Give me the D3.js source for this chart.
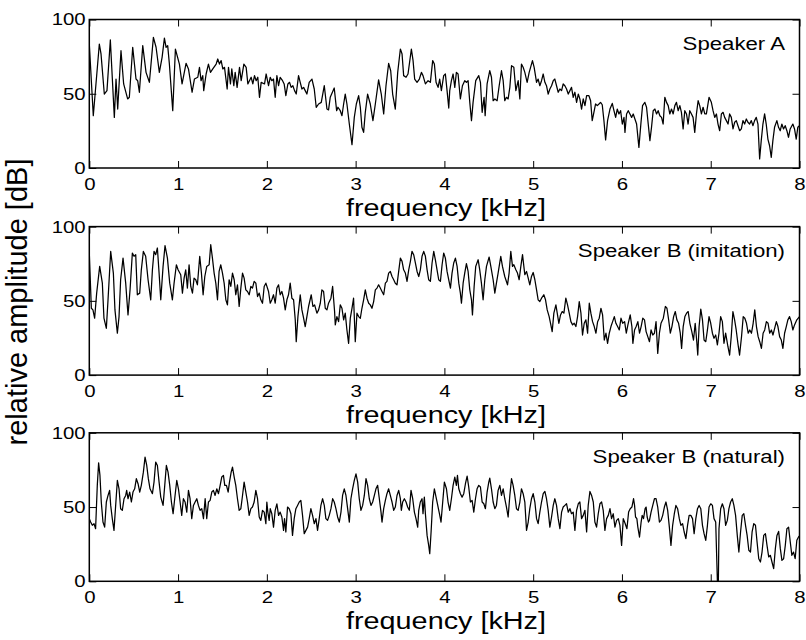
<!DOCTYPE html>
<html><head><meta charset="utf-8">
<script src="https://cdn.jsdelivr.net/npm/d3@7"></script>
<style>
body{margin:0;background:#fff}
svg{display:block}
text{font-family:"Liberation Sans",Arial,Helvetica,sans-serif;fill:#000}
</style>
</head><body><svg id="c" width="806" height="640"></svg>
<script>
// [frequency kHz, relative amplitude dB]
const speakerA = [[0,83.5],[0.045,35.2],[0.113,83.5],[0.132,76.8],[0.169,49.8],[0.199,52.1],[0.237,86.2],[0.282,34.1],[0.301,59.9],[0.320,39.7],[0.357,79.0],[0.387,56.6],[0.432,46.5],[0.451,47.6],[0.489,81.3],[0.526,59.9],[0.545,58.8],[0.564,51.0],[0.602,82.4],[0.639,64.4],[0.677,57.7],[0.722,88.0],[0.752,81.3],[0.789,64.4],[0.820,74.5],[0.846,87.5],[0.865,81.3],[0.883,82.4],[0.902,70.0],[0.940,38.6],[0.970,80.1],[1.015,70.0],[1.045,56.6],[1.090,70.5],[1.117,66.7],[1.158,51.0],[1.184,59.9],[1.222,61.1],[1.241,67.8],[1.259,58.8],[1.278,62.2],[1.289,52.1],[1.316,63.3],[1.342,70.0],[1.365,64.4],[1.391,66.7],[1.429,70.0],[1.447,73.4],[1.466,70.0],[1.485,72.3],[1.504,66.7],[1.523,67.8],[1.553,53.2],[1.568,67.8],[1.590,56.6],[1.605,66.7],[1.628,55.4],[1.643,64.4],[1.665,54.3],[1.692,67.8],[1.711,58.8],[1.741,70.0],[1.767,67.8],[1.786,56.6],[1.823,61.1],[1.842,56.6],[1.861,62.2],[1.880,58.8],[1.898,61.1],[1.917,47.6],[1.936,57.7],[1.974,56.6],[1.992,63.3],
[2.019,55.4],[2.038,61.1],[2.056,58.8],[2.075,59.9],[2.094,47.6],[2.113,62.2],[2.132,55.4],[2.150,61.1],[2.177,58.8],[2.195,56.6],[2.214,48.7],[2.237,56.6],[2.256,57.7],[2.274,54.3],[2.293,55.4],[2.312,52.1],[2.331,49.8],[2.357,62.2],[2.376,57.7],[2.395,53.2],[2.414,54.3],[2.432,52.1],[2.451,49.8],[2.477,57.7],[2.508,59.9],[2.534,53.2],[2.556,40.9],[2.583,43.1],[2.613,44.2],[2.647,55.4],[2.677,39.7],[2.695,39.1],[2.714,47.6],[2.759,53.9],[2.786,38.6],[2.801,40.9],[2.827,38.6],[2.846,35.2],[2.865,43.1],[2.883,49.8],[2.902,43.1],[2.929,29.6],[2.959,15.7],[2.985,34.1],[3.008,43.1],[3.034,48.7],[3.053,40.9],[3.071,27.4],[3.090,24.0],[3.109,37.5],[3.135,49.8],[3.165,43.1],[3.195,31.9],[3.222,43.1],[3.259,59.3],[3.289,49.8],[3.316,36.4],[3.342,55.4],[3.372,70.5],[3.395,65.5],[3.417,49.8],[3.447,39.7],[3.474,64.4],[3.504,80.1],[3.523,76.8],[3.541,62.2],[3.568,61.1],[3.590,63.3],[3.628,80.1],[3.647,72.3],[3.665,59.9],[3.692,57.7],[3.718,59.9],[3.741,64.4],[3.759,62.2],[3.786,56.6],[3.816,58.8],[3.842,57.7],[3.868,72.3],[3.887,70.0],[3.906,57.7],[3.929,54.3],[3.947,59.9],[3.966,52.1],[3.992,62.2],
[4.011,63.3],[4.030,52.1],[4.049,40.4],[4.060,52.1],[4.079,58.8],[4.098,63.3],[4.117,54.3],[4.135,64.4],[4.154,63.3],[4.180,46.5],[4.203,55.4],[4.229,58.8],[4.248,57.7],[4.267,58.8],[4.286,44.2],[4.305,31.9],[4.323,44.2],[4.353,58.8],[4.387,62.2],[4.406,57.7],[4.425,37.5],[4.447,47.6],[4.459,35.2],[4.481,56.6],[4.511,65.5],[4.530,61.1],[4.549,45.3],[4.568,46.5],[4.594,45.3],[4.617,55.4],[4.643,65.5],[4.662,58.8],[4.680,45.3],[4.699,47.6],[4.718,46.5],[4.737,54.3],[4.756,68.9],[4.782,67.8],[4.805,52.1],[4.831,58.8],[4.850,46.5],[4.868,70.0],[4.887,67.8],[4.906,64.4],[4.932,57.7],[4.955,64.4],[4.992,72.3],[5.011,67.8],[5.038,57.7],[5.056,59.9],[5.075,55.4],[5.094,58.8],[5.113,63.3],[5.132,57.7],[5.150,55.4],[5.169,49.8],[5.188,53.2],[5.207,55.4],[5.226,58.8],[5.244,59.9],[5.263,55.4],[5.282,51.0],[5.301,53.2],[5.320,52.1],[5.338,56.6],[5.357,55.4],[5.376,53.2],[5.395,49.8],[5.414,52.1],[5.432,54.3],[5.451,47.6],[5.470,51.0],[5.489,44.2],[5.508,49.8],[5.526,46.5],[5.545,39.7],[5.564,46.5],[5.583,42.0],[5.602,48.7],[5.628,48.7],[5.647,45.3],[5.665,31.9],[5.684,37.5],[5.703,43.1],[5.722,42.0],[5.741,43.1],[5.759,44.2],[5.778,42.6],[5.797,31.9],[5.816,18.9],[5.838,31.9],[5.865,39.7],[5.891,43.5],[5.910,38.6],[5.929,34.1],[5.947,39.7],[5.966,36.4],[5.985,38.6],[6.004,29.6],[6.023,34.1],
[6.034,24.0],[6.052,36.4],[6.071,38.6],[6.090,36.4],[6.109,34.1],[6.127,36.4],[6.146,33.0],[6.165,29.6],[6.191,13.9],[6.213,29.6],[6.232,42.0],[6.258,44.2],[6.277,40.9],[6.296,29.6],[6.315,18.4],[6.333,27.4],[6.352,38.6],[6.371,39.7],[6.390,36.4],[6.408,38.6],[6.427,35.2],[6.446,34.1],[6.464,29.6],[6.483,47.6],[6.502,44.2],[6.521,42.0],[6.539,36.4],[6.558,39.7],[6.577,36.4],[6.596,42.0],[6.614,44.2],[6.633,38.6],[6.652,42.0],[6.670,37.5],[6.689,26.3],[6.708,38.6],[6.727,36.4],[6.745,29.6],[6.764,38.6],[6.783,36.4],[6.801,34.1],[6.820,24.0],[6.839,36.4],[6.858,45.3],[6.876,42.0],[6.895,36.4],[6.914,40.9],[6.933,36.4],[6.951,36.4],[6.981,47.6],[7.007,44.2],[7.026,38.6],[7.045,34.1],[7.064,36.4],[7.082,29.6],[7.101,25.1],[7.120,36.4],[7.139,37.5],[7.157,34.1],[7.176,31.9],[7.195,29.6],[7.213,36.4],[7.232,34.1],[7.251,26.3],[7.270,30.8],[7.288,31.9],[7.307,28.5],[7.326,25.1],[7.345,26.3],[7.363,31.9],[7.382,29.6],[7.401,33.0],[7.419,30.8],[7.438,29.6],[7.457,31.9],[7.476,28.5],[7.494,31.9],[7.513,34.1],[7.532,29.6],[7.551,6.1],[7.569,18.4],[7.588,29.6],[7.607,36.4],[7.625,29.6],[7.644,19.5],[7.663,15.0],[7.682,7.2],[7.700,18.4],[7.719,27.4],[7.745,31.9],[7.764,27.4],[7.783,25.1],[7.801,29.6],[7.820,26.3],[7.839,28.5],[7.858,25.1],[7.876,20.7],[7.895,26.3],[7.925,29.6],[7.944,26.3],[7.963,19.5],[7.981,27.4],[8.000,28.5]];

const speakerBImitation = [[0,82.2],[0.023,45.0],[0.041,43.9],[0.060,38.3],[0.083,55.2],[0.117,73.2],[0.147,61.9],[0.165,38.3],[0.192,31.5],[0.211,50.7],[0.241,83.3],[0.271,68.7],[0.289,43.9],[0.316,28.2],[0.335,39.4],[0.353,64.2],[0.380,78.8],[0.410,61.9],[0.436,40.5],[0.459,57.4],[0.485,82.2],[0.504,80.0],[0.523,81.1],[0.541,54.1],[0.568,55.2],[0.586,70.9],[0.609,83.3],[0.635,80.0],[0.662,64.2],[0.692,50.7],[0.711,70.9],[0.729,83.3],[0.748,81.1],[0.767,85.6],[0.786,68.7],[0.805,50.7],[0.831,73.2],[0.853,87.2],[0.880,78.8],[0.906,61.9],[0.936,50.7],[0.955,61.9],[0.981,74.3],[1.000,70.9],[1.030,67.6],[1.049,55.2],[1.068,65.3],[1.086,70.9],[1.105,58.6],[1.124,74.3],[1.143,59.7],[1.162,55.2],[1.180,65.3],[1.199,64.2],[1.218,60.8],[1.244,80.0],[1.263,68.7],[1.282,54.1],[1.301,66.4],[1.323,73.2],[1.350,74.3],[1.368,87.8],[1.387,78.8],[1.406,68.7],[1.425,61.9],[1.444,50.7],[1.462,69.8],[1.481,74.3],[1.500,68.7],[1.519,61.9],[1.538,50.7],[1.556,47.3],[1.575,64.2],[1.594,59.7],[1.613,68.7],[1.632,64.2],[1.650,54.1],[1.669,60.8],[1.688,46.2],[1.707,58.6],[1.726,68.7],[1.744,65.3],[1.763,57.4],[1.782,56.3],[1.801,54.1],[1.820,59.7],[1.838,58.6],[1.857,63.1],[1.876,61.9],[1.895,52.9],[1.914,55.2],[1.932,50.7],[1.951,48.4],[1.970,59.7],[1.989,61.9],
[2.019,56.3],[2.038,48.4],[2.056,50.7],[2.075,54.1],[2.094,48.4],[2.113,58.6],[2.132,60.8],[2.150,54.1],[2.169,56.3],[2.188,51.8],[2.207,43.9],[2.226,50.7],[2.244,54.1],[2.263,61.9],[2.282,51.8],[2.301,50.7],[2.320,37.2],[2.331,22.5],[2.350,39.4],[2.376,54.1],[2.395,43.9],[2.414,38.3],[2.432,32.7],[2.451,39.4],[2.470,46.2],[2.500,54.1],[2.519,46.2],[2.538,47.3],[2.564,41.7],[2.583,43.9],[2.602,48.4],[2.620,57.4],[2.639,56.3],[2.658,45.0],[2.677,43.9],[2.695,48.4],[2.722,51.8],[2.741,59.7],[2.763,42.8],[2.771,33.8],[2.789,39.4],[2.808,36.0],[2.827,47.3],[2.846,45.0],[2.865,37.2],[2.883,41.7],[2.902,30.4],[2.921,21.4],[2.940,38.3],[2.959,45.0],[2.977,51.8],[2.996,22.5],[3.015,41.7],[3.034,39.4],[3.053,38.3],[3.071,45.0],[3.090,50.7],[3.109,57.4],[3.128,51.8],[3.147,48.4],[3.165,47.3],[3.184,45.0],[3.203,49.5],[3.222,57.4],[3.241,58.6],[3.259,60.8],[3.278,58.6],[3.297,56.3],[3.316,54.1],[3.335,61.9],[3.353,63.1],[3.372,68.7],[3.391,69.8],[3.410,66.4],[3.429,64.2],[3.447,61.9],[3.466,60.8],[3.485,69.8],[3.504,78.8],[3.523,76.6],[3.541,70.9],[3.560,68.7],[3.579,63.1],[3.598,70.9],[3.617,76.6],[3.635,83.3],[3.654,81.1],[3.673,75.5],[3.692,69.8],[3.711,66.4],[3.729,70.9],[3.748,80.0],[3.767,83.3],[3.786,80.0],[3.805,70.9],[3.823,64.2],[3.842,63.1],[3.861,75.5],[3.880,83.3],[3.898,77.7],[3.917,70.9],[3.936,64.2],[3.955,63.1],[3.974,74.3],[3.992,82.2],
[4.011,78.8],[4.030,69.8],[4.049,64.2],[4.068,58.6],[4.086,68.7],[4.105,75.5],[4.124,78.8],[4.143,73.2],[4.162,61.9],[4.180,55.2],[4.192,48.4],[4.211,61.9],[4.229,68.7],[4.248,75.0],[4.267,69.8],[4.286,57.4],[4.305,50.7],[4.316,40.5],[4.335,59.7],[4.353,73.2],[4.380,77.7],[4.398,70.9],[4.417,61.9],[4.436,50.7],[4.455,64.2],[4.474,73.2],[4.504,79.5],[4.523,73.2],[4.549,64.2],[4.568,55.2],[4.586,61.9],[4.605,68.7],[4.635,80.0],[4.654,73.2],[4.680,66.4],[4.711,60.8],[4.729,68.7],[4.748,83.3],[4.767,73.2],[4.782,74.3],[4.805,70.9],[4.823,68.7],[4.842,64.2],[4.861,73.2],[4.880,81.1],[4.895,73.2],[4.906,67.6],[4.925,69.8],[4.944,65.3],[4.962,60.8],[4.981,66.4],[5.000,69.1],[5.019,64.2],[5.038,57.4],[5.056,50.7],[5.075,49.5],[5.094,51.8],[5.120,54.1],[5.139,50.7],[5.158,43.9],[5.180,39.4],[5.199,33.8],[5.214,29.3],[5.233,41.7],[5.256,47.3],[5.271,41.7],[5.289,34.9],[5.308,40.5],[5.327,42.8],[5.346,41.7],[5.368,51.8],[5.387,47.3],[5.406,41.7],[5.425,36.0],[5.444,33.8],[5.462,34.9],[5.481,32.7],[5.500,39.4],[5.519,49.5],[5.538,41.7],[5.556,27.0],[5.575,34.9],[5.594,37.2],[5.613,28.2],[5.632,48.4],[5.650,41.7],[5.669,36.0],[5.688,32.7],[5.707,28.2],[5.726,36.0],[5.744,38.3],[5.763,45.0],[5.782,40.5],[5.801,23.6],[5.820,28.2],[5.838,21.4],[5.857,28.2],[5.876,32.7],[5.895,36.0],[5.914,39.4],[5.932,34.9],[5.951,32.7],[5.970,30.4],[5.989,38.3],[6.008,34.9],
[6.030,36.0],[6.049,28.2],[6.067,33.8],[6.093,40.5],[6.112,32.7],[6.123,21.4],[6.142,30.4],[6.160,32.7],[6.179,36.0],[6.198,28.2],[6.216,32.7],[6.235,38.3],[6.254,37.2],[6.272,29.3],[6.291,25.9],[6.310,22.5],[6.328,30.4],[6.347,27.0],[6.366,28.2],[6.384,36.0],[6.403,14.6],[6.422,28.2],[6.440,34.9],[6.466,38.3],[6.489,46.2],[6.507,45.0],[6.526,37.2],[6.545,28.2],[6.563,32.7],[6.582,39.4],[6.601,42.8],[6.619,37.2],[6.638,34.9],[6.657,28.2],[6.672,18.0],[6.690,32.7],[6.709,39.4],[6.728,41.7],[6.746,42.8],[6.765,34.9],[6.787,29.3],[6.806,23.6],[6.825,34.9],[6.843,22.5],[6.854,13.5],[6.869,32.7],[6.888,44.4],[6.907,37.2],[6.925,23.6],[6.944,22.5],[6.963,30.4],[6.981,39.4],[7.000,34.9],[7.019,28.2],[7.037,24.8],[7.056,27.0],[7.075,20.3],[7.093,28.2],[7.112,39.4],[7.131,36.0],[7.149,21.4],[7.168,28.2],[7.194,19.1],[7.213,13.5],[7.231,25.9],[7.250,42.8],[7.269,37.2],[7.287,30.4],[7.306,21.4],[7.325,13.5],[7.347,25.9],[7.366,39.4],[7.384,38.3],[7.403,34.9],[7.422,28.2],[7.440,30.4],[7.459,28.2],[7.478,34.9],[7.496,43.9],[7.515,32.7],[7.534,25.9],[7.552,22.5],[7.571,18.0],[7.590,28.2],[7.608,30.4],[7.627,36.0],[7.646,34.9],[7.664,28.2],[7.683,30.4],[7.701,27.0],[7.720,31.5],[7.739,36.0],[7.757,32.7],[7.776,25.9],[7.795,23.6],[7.813,18.0],[7.832,28.2],[7.851,32.7],[7.869,37.2],[7.888,39.4],[7.907,36.0],[7.925,30.4],[7.944,33.8],[7.970,37.2],[8.000,39.4]];

const speakerBNatural = [[0,42.2],[0.015,39.9],[0.034,37.7],[0.053,38.8],[0.071,35.4],[0.090,64.6],[0.105,79.8],[0.120,71.3],[0.135,53.4],[0.154,39.9],[0.173,36.5],[0.192,53.4],[0.211,57.8],[0.229,61.2],[0.241,51.1],[0.259,42.2],[0.278,34.3],[0.297,51.1],[0.316,67.9],[0.335,62.3],[0.353,48.9],[0.372,47.8],[0.391,55.6],[0.410,57.8],[0.421,61.2],[0.436,55.6],[0.455,60.1],[0.474,53.4],[0.492,60.1],[0.511,62.3],[0.530,69.1],[0.549,65.7],[0.568,60.1],[0.586,64.6],[0.609,73.5],[0.628,83.6],[0.647,78.0],[0.665,69.1],[0.684,62.3],[0.711,59.0],[0.729,66.8],[0.748,80.3],[0.767,78.0],[0.786,66.8],[0.805,56.7],[0.831,51.1],[0.850,64.6],[0.868,78.0],[0.887,73.5],[0.906,64.6],[0.925,53.4],[0.944,45.5],[0.962,55.6],[0.985,67.9],[1.004,62.3],[1.023,53.4],[1.041,44.4],[1.060,55.6],[1.079,53.4],[1.098,46.6],[1.117,61.2],[1.135,55.6],[1.154,42.2],[1.173,51.1],[1.192,53.4],[1.211,55.6],[1.229,51.1],[1.248,47.8],[1.267,48.9],[1.286,42.2],[1.305,55.6],[1.323,42.2],[1.342,53.4],[1.361,54.5],[1.380,60.1],[1.398,61.2],[1.417,57.8],[1.436,62.3],[1.455,59.0],[1.474,64.6],[1.492,70.2],[1.511,71.3],[1.526,64.6],[1.545,64.6],[1.564,60.1],[1.579,66.8],[1.598,73.5],[1.613,76.9],[1.632,70.2],[1.650,64.6],[1.669,55.6],[1.688,47.8],[1.707,48.9],[1.726,57.8],[1.744,66.8],[1.763,60.1],[1.782,53.4],[1.801,44.4],[1.820,48.9],[1.838,50.0],[1.857,53.4],[1.876,61.2],[1.895,55.6],[1.914,43.3],[1.932,41.0],[1.951,47.8],[1.970,46.6],[1.989,38.8],
[2.000,53.4],[2.011,46.6],[2.026,41.0],[2.038,48.9],[2.056,45.5],[2.075,36.5],[2.094,47.8],[2.113,52.2],[2.132,44.4],[2.150,46.6],[2.169,43.3],[2.188,34.3],[2.199,42.2],[2.214,33.2],[2.233,50.0],[2.252,48.9],[2.271,45.5],[2.289,30.9],[2.308,42.2],[2.327,48.9],[2.346,51.1],[2.365,53.4],[2.383,54.5],[2.402,44.4],[2.421,32.1],[2.440,34.3],[2.459,36.5],[2.477,42.2],[2.496,48.9],[2.515,44.4],[2.534,38.8],[2.553,42.2],[2.571,34.3],[2.590,42.2],[2.609,51.1],[2.628,55.6],[2.647,51.1],[2.665,42.2],[2.684,41.0],[2.703,44.4],[2.722,48.9],[2.741,55.6],[2.759,53.4],[2.778,48.9],[2.797,43.3],[2.816,39.9],[2.835,46.6],[2.853,57.8],[2.872,62.3],[2.891,57.8],[2.910,48.9],[2.929,39.9],[2.947,55.6],[2.966,62.3],[2.985,67.9],[3.004,72.4],[3.023,66.8],[3.041,55.6],[3.060,47.8],[3.079,51.1],[3.098,57.8],[3.117,69.1],[3.135,64.6],[3.154,55.6],[3.173,51.1],[3.192,53.4],[3.211,57.8],[3.229,62.3],[3.248,64.6],[3.267,55.6],[3.286,46.6],[3.297,39.9],[3.316,48.9],[3.335,54.5],[3.353,59.0],[3.372,62.3],[3.391,57.8],[3.410,53.4],[3.429,47.8],[3.447,50.0],[3.466,57.8],[3.485,61.2],[3.504,55.6],[3.515,47.8],[3.530,53.4],[3.549,55.6],[3.568,53.4],[3.586,50.0],[3.605,47.8],[3.624,61.2],[3.643,55.6],[3.662,46.6],[3.680,42.2],[3.699,36.5],[3.711,47.8],[3.729,53.4],[3.748,55.6],[3.759,45.5],[3.774,56.7],[3.786,45.5],[3.805,30.9],[3.823,24.2],[3.835,18.6],[3.850,33.2],[3.868,53.4],[3.887,62.3],[3.906,56.7],[3.925,51.1],[3.944,45.5],[3.962,39.9],[3.981,53.4],[4.000,66.8],
[4.023,62.3],[4.041,53.4],[4.060,47.8],[4.079,55.6],[4.098,64.6],[4.117,70.2],[4.135,64.6],[4.147,71.3],[4.162,62.3],[4.180,59.0],[4.199,56.7],[4.218,59.0],[4.237,65.7],[4.256,70.9],[4.274,63.5],[4.293,53.4],[4.312,54.5],[4.331,46.6],[4.350,55.6],[4.368,62.3],[4.387,64.6],[4.406,63.5],[4.425,53.4],[4.444,52.2],[4.462,48.9],[4.481,60.1],[4.500,66.8],[4.511,69.5],[4.530,62.3],[4.549,53.4],[4.568,48.9],[4.586,51.1],[4.605,61.2],[4.624,64.6],[4.643,57.8],[4.662,62.3],[4.680,55.6],[4.699,50.0],[4.718,43.3],[4.737,57.8],[4.756,69.1],[4.774,64.6],[4.793,57.8],[4.812,48.9],[4.831,47.8],[4.850,53.4],[4.868,62.3],[4.887,59.0],[4.906,53.4],[4.925,34.3],[4.944,39.9],[4.962,48.9],[4.981,55.6],[5.000,59.0],[5.019,53.4],[5.038,42.2],[5.056,38.8],[5.075,46.6],[5.094,53.4],[5.113,59.0],[5.132,60.5],[5.150,55.6],[5.169,47.8],[5.188,36.5],[5.207,43.3],[5.226,51.1],[5.244,55.6],[5.263,51.1],[5.282,42.2],[5.301,35.4],[5.320,46.6],[5.338,50.0],[5.357,51.1],[5.376,52.2],[5.395,46.6],[5.414,48.9],[5.432,45.5],[5.451,46.6],[5.470,34.3],[5.489,47.8],[5.508,52.2],[5.526,53.4],[5.545,42.2],[5.564,44.4],[5.583,47.8],[5.602,33.2],[5.620,51.1],[5.639,60.5],[5.658,57.8],[5.677,53.4],[5.695,39.9],[5.714,36.5],[5.733,45.5],[5.752,52.2],[5.771,53.4],[5.789,47.8],[5.808,34.3],[5.827,42.2],[5.846,44.4],[5.865,48.9],[5.883,42.2],[5.902,45.5],[5.921,36.5],[5.940,41.0],[5.959,42.2],[5.977,37.7],[5.996,24.2],[6.015,42.2],
[6.037,38.8],[6.056,35.4],[6.075,46.6],[6.093,48.9],[6.112,50.0],[6.131,55.6],[6.142,51.1],[6.153,43.3],[6.168,42.2],[6.179,36.5],[6.198,29.8],[6.216,39.9],[6.228,44.4],[6.243,42.2],[6.261,48.9],[6.272,50.0],[6.284,43.3],[6.299,39.9],[6.310,41.0],[6.328,46.6],[6.347,51.1],[6.366,55.6],[6.384,55.6],[6.403,50.0],[6.422,39.9],[6.440,41.0],[6.459,44.4],[6.478,50.0],[6.496,53.4],[6.515,47.8],[6.534,36.5],[6.552,24.2],[6.571,37.7],[6.590,45.5],[6.608,51.1],[6.627,48.9],[6.646,42.2],[6.664,37.7],[6.683,38.8],[6.701,33.2],[6.720,28.7],[6.739,37.7],[6.757,44.4],[6.776,44.4],[6.795,42.2],[6.813,32.1],[6.832,42.2],[6.851,48.9],[6.869,51.1],[6.888,48.9],[6.907,37.7],[6.925,32.1],[6.944,27.6],[6.963,37.7],[6.981,50.0],[7.000,52.2],[7.019,51.1],[7.037,42.2],[7.056,39.9],[7.075,0],[7.086,0],[7.093,35.4],[7.112,48.9],[7.131,52.2],[7.149,48.9],[7.168,37.7],[7.187,41.0],[7.205,48.9],[7.224,53.4],[7.243,55.6],[7.261,51.1],[7.280,44.4],[7.299,30.9],[7.317,19.7],[7.336,33.2],[7.355,44.4],[7.373,45.5],[7.392,37.7],[7.410,30.9],[7.429,20.9],[7.448,19.7],[7.466,33.2],[7.485,38.8],[7.504,37.7],[7.522,26.5],[7.541,15.2],[7.560,13.0],[7.578,19.7],[7.597,30.9],[7.616,32.1],[7.634,24.2],[7.653,16.4],[7.672,17.5],[7.690,13.0],[7.709,8.5],[7.728,22.0],[7.746,30.9],[7.765,33.6],[7.784,22.0],[7.802,14.1],[7.821,15.2],[7.840,24.2],[7.858,35.4],[7.877,36.5],[7.896,26.5],[7.914,17.5],[7.933,19.7],[7.951,15.2],[7.970,27.6],[7.989,29.8],[8.000,30.5]];

const panelTitles = ["Speaker A", "Speaker B (imitation)", "Speaker B (natural)"];
const xTicks = [0, 1, 2, 3, 4, 5, 6, 7, 8];
const yTicks = [0, 50, 100];
const xLabel = "frequency [kHz]";
const yLabel = "relative amplitude [dB]";

const series = [speakerA, speakerBImitation, speakerBNatural];
const svg = d3.select("#c");
const left = 89.3, right = 799.5, panelH = 148.5;
const panelTops = [19.5, 226.6, 432.8];
const x = d3.scaleLinear().domain([0, 8]).range([left, right]);
const FONT = '"Liberation Sans", Arial, Helvetica, sans-serif';
const SX = 1.2; // text in the reference is slightly wide

series.forEach((data, i) => {
  const top = panelTops[i], bottom = top + panelH;
  const y = d3.scaleLinear().domain([0, 100]).range([bottom, top]);
  const g = svg.append("g");
  const clipId = "clip" + i;
  g.append("clipPath").attr("id", clipId).append("rect")
    .attr("x", left).attr("y", top).attr("width", right - left).attr("height", panelH);

  g.append("path").datum(data)
    .attr("clip-path", `url(#${clipId})`)
    .attr("fill", "none").attr("stroke", "#000").attr("stroke-width", 1.25)
    .attr("stroke-linejoin", "round")
    .attr("d", d3.line().x(d => x(d[0])).y(d => y(d[1])));

  const styleAxis = sel => {
    sel.select(".domain").remove();
    sel.selectAll(".tick line").attr("stroke", "#000").attr("stroke-width", 1);
    sel.selectAll("text").attr("font-size", 17).attr("font-family", FONT).attr("fill", "#000")
      .attr("transform", `scale(${SX},1)`);
  };
  g.append("g").attr("transform", `translate(0,${bottom})`)
    .call(d3.axisBottom(x).tickValues(xTicks).tickFormat(d3.format("d")).tickSizeInner(-7).tickSizeOuter(0).tickPadding(10))
    .call(styleAxis);
  g.append("g").attr("transform", `translate(0,${top})`)
    .call(d3.axisTop(x).tickValues(xTicks).tickFormat("").tickSizeInner(-7).tickSizeOuter(0))
    .call(styleAxis);
  g.append("g").attr("transform", `translate(${left},0)`)
    .call(d3.axisLeft(y).tickValues(yTicks).tickFormat(d3.format("d")).tickSizeInner(-7).tickSizeOuter(0).tickPadding(3))
    .call(styleAxis);
  g.append("g").attr("transform", `translate(${right},0)`)
    .call(d3.axisRight(y).tickValues(yTicks).tickFormat("").tickSizeInner(-7).tickSizeOuter(0))
    .call(styleAxis);

  g.append("rect").attr("x", left).attr("y", top).attr("width", right - left).attr("height", panelH)
    .attr("fill", "none").attr("stroke", "#000").attr("stroke-width", 1.5);

  g.append("text").attr("transform", `translate(785,${top + 30}) scale(${SX},1)`)
    .attr("text-anchor", "end").attr("font-size", 18.5).text(panelTitles[i]);

  g.append("text").attr("transform", `translate(446,${bottom + 47.5}) scale(${SX},1)`)
    .attr("text-anchor", "middle").attr("font-size", 24).text(xLabel);
});

svg.append("text").attr("transform", "translate(27,302) rotate(-90)")
  .attr("text-anchor", "middle").attr("font-size", 29).text(yLabel);
</script>
</body></html>
